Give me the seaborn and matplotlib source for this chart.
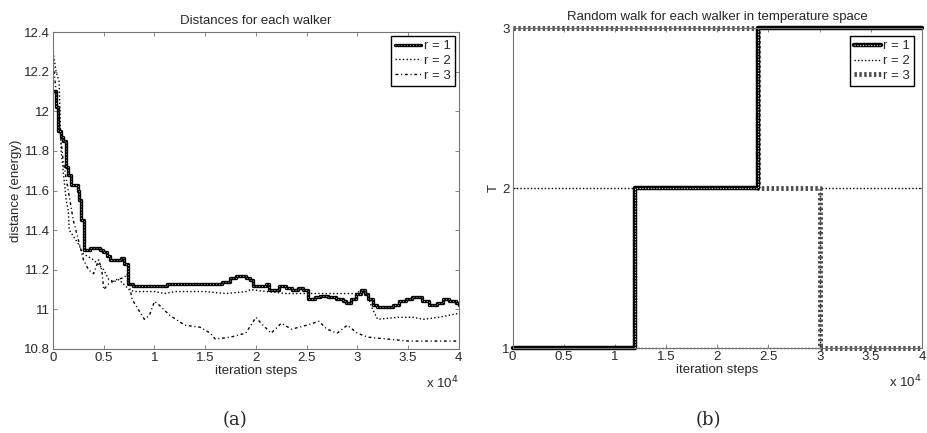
import numpy as np
import matplotlib
matplotlib.use("Agg")
import matplotlib.pyplot as plt
import seaborn as sns

# iteration steps in units of 1e4
# walker r = 1 (distance)
x_r1 = [0.0, 0.03, 0.05, 0.08, 0.10, 0.13, 0.15, 0.18, 0.21, 0.25, 0.26, 0.28, 0.31, 0.36, 0.43,
        0.46, 0.49, 0.53, 0.56, 0.62, 0.67, 0.70, 0.74, 0.79, 0.90, 1.02, 1.12, 1.18, 1.40, 1.64,
        1.67, 1.74, 1.80, 1.90, 1.94, 1.97, 2.04, 2.10, 2.13, 2.20, 2.23, 2.30, 2.36, 2.41, 2.46,
        2.51, 2.58, 2.63, 2.71, 2.79, 2.86, 2.89, 2.94, 2.99, 3.04, 3.07, 3.10, 3.15, 3.19, 3.28,
        3.35, 3.41, 3.48, 3.54, 3.64, 3.71, 3.78, 3.84, 3.90, 3.97, 4.0]
d_r1 = [12.10, 12.02, 11.90, 11.87, 11.85, 11.72, 11.68, 11.63, 11.63, 11.60, 11.55, 11.45, 11.30, 11.31, 11.31,
        11.30, 11.29, 11.27, 11.25, 11.25, 11.26, 11.23, 11.13, 11.12, 11.12, 11.12, 11.13, 11.13, 11.13, 11.13,
        11.14, 11.16, 11.17, 11.16, 11.15, 11.12, 11.12, 11.13, 11.10, 11.10, 11.12, 11.11, 11.10, 11.11, 11.10,
        11.05, 11.06, 11.07, 11.06, 11.05, 11.04, 11.03, 11.05, 11.08, 11.10, 11.08, 11.05, 11.02, 11.01, 11.01,
        11.02, 11.04, 11.05, 11.06, 11.04, 11.02, 11.03, 11.05, 11.04, 11.03, 11.02]

# walker r = 2 (distance)
x_r2 = [0.0, 0.03, 0.06, 0.08, 0.11, 0.13, 0.15, 0.16, 0.20, 0.25, 0.30, 0.40, 0.50, 0.55, 0.60,
        0.65, 0.75, 0.80, 1.00, 1.10, 1.20, 1.50, 1.70, 1.90, 1.95, 2.10, 2.30, 2.60, 3.00, 3.03,
        3.10, 3.15, 3.20, 3.40, 3.55, 3.65, 3.80, 3.90, 4.0]
d_r2 = [12.30, 12.20, 12.15, 11.80, 11.65, 11.55, 11.50, 11.40, 11.37, 11.33, 11.28, 11.25, 11.20, 11.15, 11.14,
        11.15, 11.10, 11.09, 11.09, 11.08, 11.09, 11.09, 11.08, 11.09, 11.10, 11.09, 11.08, 11.08, 11.08, 11.10,
        11.07, 11.00, 10.95, 10.96, 10.96, 10.95, 10.96, 10.97, 10.98]

# walker r = 3 (distance)
x_r3 = [0.0, 0.05, 0.10, 0.15, 0.20, 0.25, 0.30, 0.35, 0.40, 0.45, 0.48, 0.50, 0.55, 0.62, 0.70,
        0.73, 0.78, 0.90, 0.95, 1.00, 1.05, 1.15, 1.30, 1.45, 1.55, 1.60, 1.75, 1.90, 2.00, 2.05,
        2.15, 2.25, 2.35, 2.50, 2.62, 2.70, 2.80, 2.90, 3.00, 3.10, 3.30, 3.50, 4.0]
d_r3 = [12.25, 12.00, 11.75, 11.60, 11.45, 11.35, 11.25, 11.20, 11.18, 11.25, 11.20, 11.10, 11.13, 11.15, 11.16,
        11.18, 11.05, 10.95, 10.97, 11.04, 11.02, 10.97, 10.92, 10.91, 10.88, 10.85, 10.86, 10.88, 10.96, 10.93,
        10.88, 10.93, 10.90, 10.92, 10.94, 10.90, 10.88, 10.92, 10.88, 10.86, 10.85, 10.84, 10.84]

# temperature index of each walker (swap times in units of 1e4)
t_x = [0.0, 1.2, 2.4, 3.0, 4.0]
temp_r1 = [1, 2, 3, 3, 3]
temp_r2 = [2, 1, 1, 2, 2]
temp_r3 = [3, 3, 2, 1, 1]

sns.set_style("ticks")
plt.rcParams["font.family"] = ["Liberation Sans", "DejaVu Sans"]

fig = plt.figure(figsize=(9.27, 4.33), dpi=100)
ax1 = fig.add_axes([0.0572, 0.194, 0.4378, 0.732])
ax2 = fig.add_axes([0.553, 0.196, 0.4416, 0.739])

fs = 9.5

# ---- (a) distances ----
sns.lineplot(x=x_r1, y=d_r1, ax=ax1, color="black", lw=2.4, drawstyle="steps-post", sort=False)
sns.lineplot(x=x_r1, y=d_r1, ax=ax1, color="0.8", lw=0.6, linestyle=(0, (1, 2.5)),
             drawstyle="steps-post", sort=False)
sns.lineplot(x=x_r2, y=d_r2, ax=ax1, color="black", lw=1.0, linestyle=":", sort=False)
sns.lineplot(x=x_r3, y=d_r3, ax=ax1, color="black", lw=1.0, linestyle=(0, (2, 2, 0.8, 2)), sort=False)
l = ax1.get_lines()
ax1.legend([(l[0], l[1]), l[2], l[3]], ["r = 1", "r = 2", "r = 3"], loc="upper right",
           fontsize=fs, handlelength=2.0, handletextpad=0.2, borderpad=0.3, labelspacing=0.2,
           fancybox=False, edgecolor="black", framealpha=1, borderaxespad=0.3)
ax1.set_xlim(0, 4)
ax1.set_ylim(10.8, 12.4)
ax1.set_xticks(np.arange(0, 4.01, 0.5))
ax1.set_yticks(np.arange(10.8, 12.41, 0.2))
ax1.set_xticklabels(["0", "0.5", "1", "1.5", "2", "2.5", "3", "3.5", "4"])
ax1.set_yticklabels(["10.8", "11", "11.2", "11.4", "11.6", "11.8", "12", "12.2", "12.4"])
ax1.set_title("Distances for each walker", fontsize=fs, pad=6)
ax1.set_xlabel("iteration steps", fontsize=fs, labelpad=1)
ax1.set_ylabel("distance (energy)", fontsize=fs, labelpad=2)

# ---- (b) temperature walk ----
sns.lineplot(x=t_x, y=temp_r2, ax=ax2, color="black", lw=1.0, linestyle=(0, (1, 1.5)),
             drawstyle="steps-post", sort=False)
sns.lineplot(x=t_x, y=temp_r3, ax=ax2, color="0.3", lw=3.5, linestyle=(0, (0.5, 0.5)),
             drawstyle="steps-post", sort=False)
sns.lineplot(x=t_x, y=temp_r1, ax=ax2, color="black", lw=3.2, drawstyle="steps-post", sort=False)
sns.lineplot(x=t_x, y=temp_r1, ax=ax2, color="0.85", lw=0.8, linestyle=(0, (1, 1.5)),
             drawstyle="steps-post", sort=False)
for ln in ax2.get_lines():
    ln.set_clip_on(False)
l = ax2.get_lines()
ax2.legend([(l[2], l[3]), l[0], l[1]], ["r = 1", "r = 2", "r = 3"], loc="upper right",
           fontsize=fs, handlelength=2.0, handletextpad=0.2, borderpad=0.3, labelspacing=0.2,
           fancybox=False, edgecolor="black", framealpha=1, borderaxespad=0.6)
ax2.set_xlim(0, 4)
ax2.set_ylim(1, 3)
ax2.set_xticks(np.arange(0, 4.01, 0.5))
ax2.set_xticklabels(["0", "0.5", "1", "1.5", "2", "2.5", "3", "3.5", "4"])
ax2.set_yticks([1, 2, 3])
ax2.set_yticklabels(["1", "2", "3"])
ax2.set_title("Random walk for each walker in temperature space", fontsize=fs, pad=6)
ax2.set_xlabel("iteration steps", fontsize=fs, labelpad=1)
ax2.set_ylabel("T", fontsize=fs, labelpad=2)

for ax in (ax1, ax2):
    for sp in ax.spines.values():
        sp.set_visible(True)
        sp.set_color("0.45")
        sp.set_linewidth(0.8)
    ax.tick_params(direction="in", top=True, right=True, length=3, width=0.6,
                   color="0.45", labelsize=fs, pad=2)
    ax.text(1.0, -0.107, r"x 10$^4$", transform=ax.transAxes, ha="right", va="center",
            fontsize=fs)

fig.text(235 / 927, 1 - 420 / 433, "(a)", ha="center", va="center", fontsize=13,
         family="DejaVu Serif")
fig.text(708 / 927, 1 - 420 / 433, "(b)", ha="center", va="center", fontsize=13,
         family="DejaVu Serif")

fig.savefig("out.png", dpi=100)
